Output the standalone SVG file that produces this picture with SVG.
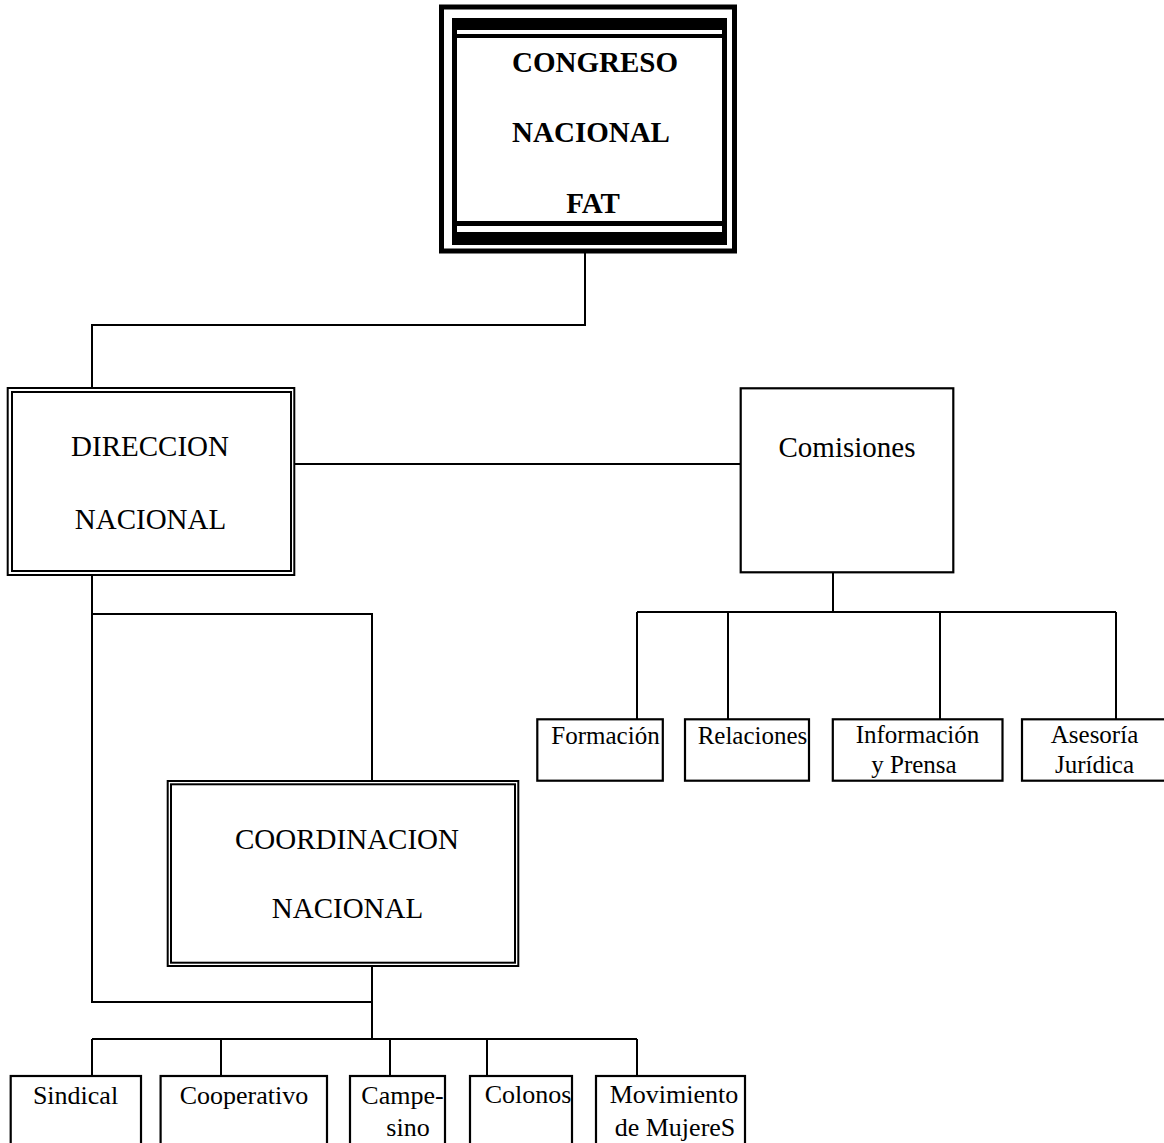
<svg xmlns="http://www.w3.org/2000/svg" width="1164" height="1143" viewBox="0 0 1164 1143">
<style>
text{font-family:"Liberation Serif","Times New Roman",serif;fill:#000;text-anchor:middle}
.big{font-size:29px}
.bold{font-weight:bold}
.mid{font-size:25px}
.sm{font-size:26px}
.box{fill:#fff;stroke:#000;stroke-width:2.2}
.dbl{fill:none;stroke:#000;stroke-width:2}
.con{fill:none;stroke:#000;stroke-width:2}
</style>
<rect width="1164" height="1143" fill="#fff"/>
<g id="connectors">
<path class="con" d="M585 253V325H92V388"/>
<path class="con" d="M295 464H741"/>
<path class="con" d="M833 572V612M637 612H1116M637 612V719M728 612V719M940 612V719M1116 612V719"/>
<path class="con" d="M92 575V1002H372M92 614H372V781"/>
<path class="con" d="M372 966V1039M92 1039H637M92 1039V1076M221 1039V1076M390 1039V1076M487 1039V1076M637 1039V1076"/>
</g>
<g id="congreso">
<rect x="441.5" y="7" width="293" height="244" fill="none" stroke="#000" stroke-width="5"/>
<rect x="452" y="18" width="5" height="227" fill="#000"/>
<rect x="722" y="18" width="5" height="227" fill="#000"/>
<rect x="452" y="18" width="275" height="12" fill="#000"/>
<rect x="452" y="34" width="275" height="4" fill="#000"/>
<rect x="452" y="221" width="275" height="5" fill="#000"/>
<rect x="452" y="232" width="275" height="13" fill="#000"/>
<text class="big bold" x="595" y="72">CONGRESO</text>
<text class="big bold" x="591" y="142">NACIONAL</text>
<text class="big bold" x="593" y="213">FAT</text>
</g>
<g id="direccion">
<rect class="dbl" x="7.7" y="388" width="286.6" height="187"/>
<rect class="dbl" x="12" y="392" width="279" height="179"/>
<text class="big" x="150" y="456">DIRECCION</text>
<text class="big" x="150.5" y="529">NACIONAL</text>
</g>
<g id="comisiones">
<rect class="box" x="740.7" y="388.3" width="212.6" height="184"/>
<text class="big" x="847" y="457">Comisiones</text>
</g>
<g id="formacion">
<rect class="box" x="537.3" y="719.3" width="125.5" height="61.4"/>
<text class="mid" x="605.5" y="744">Formación</text>
</g>
<g id="relaciones">
<rect class="box" x="685" y="719.3" width="124" height="61.4"/>
<text class="mid" x="752.5" y="744">Relaciones</text>
</g>
<g id="informacion">
<rect class="box" x="832.8" y="719.3" width="169.7" height="61.4"/>
<text class="mid" x="917.5" y="743">Información</text>
<text class="mid" x="914" y="773">y Prensa</text>
</g>
<g id="asesoria">
<rect class="box" x="1022" y="719.3" width="150" height="61.4"/>
<text class="mid" x="1094.5" y="743">Asesoría</text>
<text class="mid" x="1094.5" y="773">Jurídica</text>
</g>
<g id="coordinacion">
<rect class="dbl" x="167.7" y="781" width="350.6" height="185"/>
<rect class="dbl" x="171" y="784.3" width="344" height="178.4"/>
<text class="big" x="347" y="849">COORDINACION</text>
<text class="big" x="347.5" y="918">NACIONAL</text>
</g>
<g id="sindical">
<rect class="box" x="10.7" y="1076" width="130.3" height="100"/>
<text class="sm" x="75.5" y="1104">Sindical</text>
</g>
<g id="cooperativo">
<rect class="box" x="160.6" y="1076" width="166.4" height="100"/>
<text class="sm" x="244" y="1104">Cooperativo</text>
</g>
<g id="campesino">
<rect class="box" x="350" y="1076" width="95" height="100"/>
<text class="sm" x="402.5" y="1104">Campe-</text>
<text class="sm" x="408" y="1136">sino</text>
</g>
<g id="colonos">
<rect class="box" x="470" y="1076" width="102" height="100"/>
<text class="sm" x="528" y="1103">Colonos</text>
</g>
<g id="movimiento">
<rect class="box" x="596" y="1076" width="149" height="100"/>
<text class="sm" x="674" y="1103">Movimiento</text>
<text class="sm" x="675" y="1136">de MujereS</text>
</g>
</svg>
